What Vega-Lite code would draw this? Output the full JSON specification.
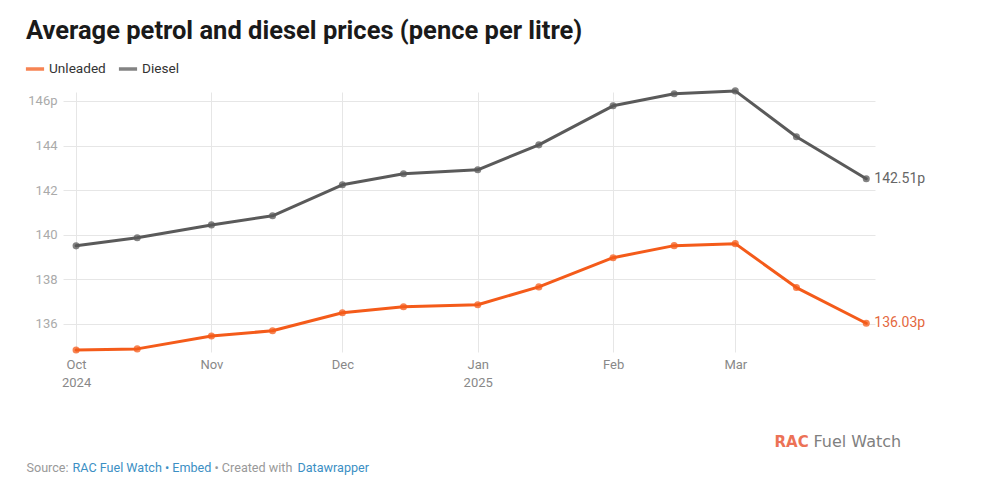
{
  "$schema": "https://vega.github.io/schema/vega-lite/v6.json",
  "autosize": {"type": "none"},
  "padding": {"left": 63, "top": 92, "right": 120, "bottom": 136},
  "width": 812,
  "height": 260,
  "background": "#ffffff",
  "config": {
    "font": "Roboto",
    "view": {"stroke": null},
    "axis": {"labelFont": "Roboto", "titleFont": "Roboto"}
  },
  "title": {
    "text": "Average petrol and diesel prices (pence per litre)",
    "anchor": "start",
    "frame": "group",
    "font": "Roboto",
    "fontSize": 25.5,
    "fontWeight": "bold",
    "color": "#1a1a1a",
    "baseline": "alphabetic",
    "dx": -37,
    "dy": 26,
    "offset": 20
  },
  "datasets": {
    "prices": [
      {"date": "2024-10-01", "fuel": "Unleaded", "price": 134.83},
      {"date": "2024-10-15", "fuel": "Unleaded", "price": 134.88},
      {"date": "2024-11-01", "fuel": "Unleaded", "price": 135.46},
      {"date": "2024-11-15", "fuel": "Unleaded", "price": 135.69},
      {"date": "2024-12-01", "fuel": "Unleaded", "price": 136.50},
      {"date": "2024-12-15", "fuel": "Unleaded", "price": 136.77},
      {"date": "2025-01-01", "fuel": "Unleaded", "price": 136.86},
      {"date": "2025-01-15", "fuel": "Unleaded", "price": 137.66},
      {"date": "2025-02-01", "fuel": "Unleaded", "price": 138.97},
      {"date": "2025-02-15", "fuel": "Unleaded", "price": 139.51},
      {"date": "2025-03-01", "fuel": "Unleaded", "price": 139.60},
      {"date": "2025-03-15", "fuel": "Unleaded", "price": 137.63},
      {"date": "2025-03-31", "fuel": "Unleaded", "price": 136.03},
      {"date": "2024-10-01", "fuel": "Diesel", "price": 139.50},
      {"date": "2024-10-15", "fuel": "Diesel", "price": 139.86},
      {"date": "2024-11-01", "fuel": "Diesel", "price": 140.44},
      {"date": "2024-11-15", "fuel": "Diesel", "price": 140.85},
      {"date": "2024-12-01", "fuel": "Diesel", "price": 142.24},
      {"date": "2024-12-15", "fuel": "Diesel", "price": 142.73},
      {"date": "2025-01-01", "fuel": "Diesel", "price": 142.91},
      {"date": "2025-01-15", "fuel": "Diesel", "price": 144.03},
      {"date": "2025-02-01", "fuel": "Diesel", "price": 145.78},
      {"date": "2025-02-15", "fuel": "Diesel", "price": 146.32},
      {"date": "2025-03-01", "fuel": "Diesel", "price": 146.45},
      {"date": "2025-03-15", "fuel": "Diesel", "price": 144.39},
      {"date": "2025-03-31", "fuel": "Diesel", "price": 142.51}
    ]
  },
  "data": {"name": "prices"},
  "resolve": {"axis": {"x": "independent", "y": "independent"}},
  "layer": [
    {
      "mark": {"type": "line", "strokeWidth": 3, "strokeCap": "round", "strokeJoin": "round"},
      "encoding": {
        "x": {
          "field": "date",
          "type": "temporal",
          "scale": {
            "type": "utc",
            "domain": [
              {"year": 2024, "month": 9, "date": 28, "utc": true},
              {"year": 2025, "month": 4, "date": 2, "utc": true}
            ]
          },
          "axis": {
            "orient": "bottom",
            "values": [
              {"year": 2024, "month": 10, "date": 1, "utc": true},
              {"year": 2024, "month": 11, "date": 1, "utc": true},
              {"year": 2024, "month": 12, "date": 1, "utc": true},
              {"year": 2025, "month": 1, "date": 1, "utc": true},
              {"year": 2025, "month": 2, "date": 1, "utc": true},
              {"year": 2025, "month": 3, "date": 1, "utc": true}
            ],
            "labelExpr": "utcFormat(datum.value, '%m') == '10' || utcFormat(datum.value, '%m') == '01' ? [utcFormat(datum.value, '%b'), utcFormat(datum.value, '%Y')] : utcFormat(datum.value, '%b')",
            "labelFontSize": 13,
            "labelColor": "#888888",
            "labelPadding": 6,
            "labelLineHeight": 18,
            "labelFlush": false,
            "labelOverlap": false,
            "ticks": false,
            "domain": false,
            "grid": true,
            "gridColor": "#e6e6e6",
            "gridWidth": 1,
            "title": "Source:",
            "titleFontSize": 12.6,
            "titleFontWeight": "normal",
            "titleColor": "#999999",
            "titleAlign": "left",
            "titleBaseline": "alphabetic",
            "titleX": -37,
            "titleY": 119
          }
        },
        "y": {
          "field": "price",
          "type": "quantitative",
          "scale": {"domain": [134.74, 146.4], "nice": false, "zero": false},
          "axis": {
            "orient": "left",
            "values": [136, 138, 140, 142, 144, 146],
            "labelExpr": "datum.value == 146 ? '146p' : datum.label",
            "labelFontSize": 13,
            "labelColor": "#aaaaaa",
            "labelPadding": 6,
            "ticks": false,
            "domain": false,
            "grid": true,
            "gridColor": "#e6e6e6",
            "gridWidth": 1,
            "title": "RAC",
            "titleAngle": 0,
            "titleFont": "DejaVu Sans",
            "titleFontSize": 15,
            "titleFontWeight": "bold",
            "titleColor": "#ec7256",
            "titleAlign": "left",
            "titleBaseline": "alphabetic",
            "titleX": 711,
            "titleY": 354
          }
        },
        "color": {
          "field": "fuel",
          "type": "nominal",
          "scale": {"domain": ["Unleaded", "Diesel"], "range": ["#f45b1a", "#5a5a5a"]},
          "legend": {
            "orient": "none",
            "legendX": -39,
            "legendY": -34,
            "direction": "horizontal",
            "title": null,
            "symbolType": "stroke",
            "symbolStrokeWidth": 3.5,
            "symbolSize": 330,
            "labelFont": "Roboto",
            "labelFontSize": 13.6,
            "labelColor": "#333333",
            "labelOffset": 3,
            "columnPadding": 5
          }
        }
      }
    },
    {
      "mark": {"type": "point", "filled": true, "size": 50, "opacity": 0.75},
      "encoding": {
        "x": {
          "field": "date",
          "type": "temporal",
          "axis": {
            "orient": "bottom",
            "labels": false,
            "ticks": false,
            "domain": false,
            "grid": false,
            "title": "RAC Fuel Watch • Embed",
            "titleFontSize": 12.6,
            "titleFontWeight": "normal",
            "titleColor": "#3b8fc4",
            "titleAlign": "left",
            "titleBaseline": "alphabetic",
            "titleX": 9,
            "titleY": 119
          }
        },
        "y": {
          "field": "price",
          "type": "quantitative",
          "axis": {
            "orient": "left",
            "labels": false,
            "ticks": false,
            "domain": false,
            "grid": false,
            "title": "Fuel Watch",
            "titleAngle": 0,
            "titleFont": "DejaVu Sans",
            "titleFontSize": 16,
            "titleFontWeight": "normal",
            "titleColor": "#808080",
            "titleAlign": "left",
            "titleBaseline": "alphabetic",
            "titleX": 750,
            "titleY": 354
          }
        },
        "color": {"field": "fuel", "type": "nominal"}
      }
    },
    {
      "transform": [
        {"filter": "time(datum.date) == utc(2025, 2, 31)"},
        {"calculate": "format(datum.price, '.2f') + 'p'", "as": "label"}
      ],
      "mark": {"type": "text", "align": "left", "baseline": "middle", "dx": 8, "fontSize": 14, "font": "Roboto"},
      "encoding": {
        "x": {
          "field": "date",
          "type": "temporal",
          "axis": {
            "orient": "bottom",
            "labels": false,
            "ticks": false,
            "domain": false,
            "grid": false,
            "title": "• Created with",
            "titleFontSize": 12.6,
            "titleFontWeight": "normal",
            "titleColor": "#999999",
            "titleAlign": "left",
            "titleBaseline": "alphabetic",
            "titleX": 151,
            "titleY": 119
          }
        },
        "y": {
          "field": "price",
          "type": "quantitative",
          "axis": {
            "orient": "left",
            "labels": false,
            "ticks": false,
            "domain": false,
            "grid": false,
            "title": "Datawrapper",
            "titleAngle": 0,
            "titleFontSize": 12.6,
            "titleFontWeight": "normal",
            "titleColor": "#3b8fc4",
            "titleAlign": "left",
            "titleBaseline": "alphabetic",
            "titleX": 234,
            "titleY": 379
          }
        },
        "text": {"field": "label", "type": "nominal"},
        "color": {
          "condition": {"test": "datum.fuel == 'Diesel'", "value": "#666666"},
          "value": "#e4683e"
        }
      }
    }
  ]
}
